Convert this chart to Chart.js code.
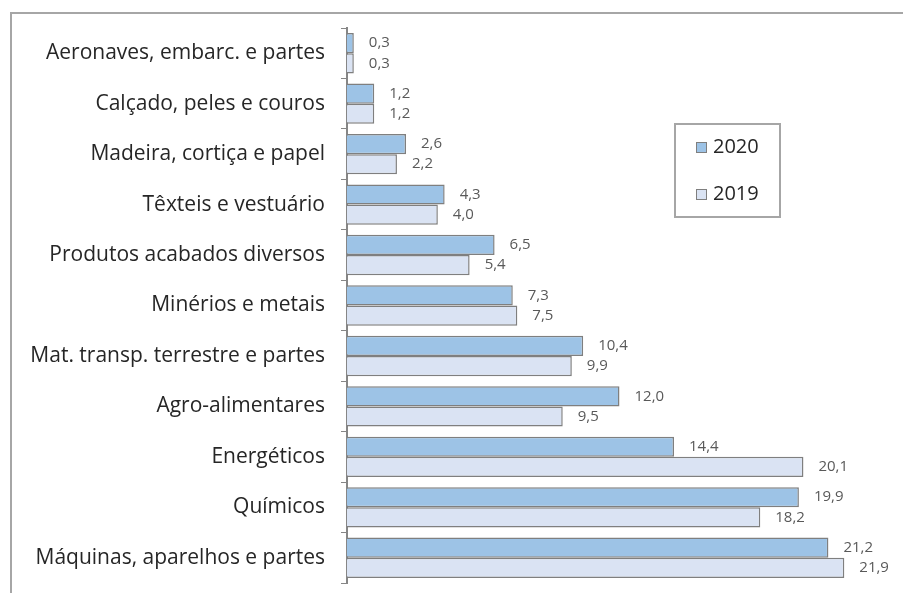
<!DOCTYPE html>
<html>
<head>
<meta charset="utf-8">
<script src="https://cdn.jsdelivr.net/npm/chart.js@4.4.0/dist/chart.umd.min.js"></script>
<style>
    html, body { margin: 0; padding: 0; background: #fff; }
    #wrap { width: 903px; height: 593px; position: relative; }
</style>
</head>
<body>
<div id="wrap"><canvas id="chart"></canvas></div>
<script>
// Data
const categories = [
    'Aeronaves, embarc. e partes',
    'Calçado, peles e couros',
    'Madeira, cortiça e papel',
    'Têxteis e vestuário',
    'Produtos acabados diversos',
    'Minérios e metais',
    'Mat. transp. terrestre e partes',
    'Agro-alimentares',
    'Energéticos',
    'Químicos',
    'Máquinas, aparelhos e partes'
];
const seriesNames = ['2020', '2019'];
const values2020 = [0.3, 1.2, 2.6, 4.3, 6.5, 7.3, 10.4, 12.0, 14.4, 19.9, 21.2];
const values2019 = [0.3, 1.2, 2.2, 4.0, 5.4, 7.5, 9.9, 9.5, 20.1, 18.2, 21.9];

const colors = {
    y2020: '#9dc3e6',
    y2019: '#dae3f3',
    border: '#7f7f7f',
    axis: '#868686',
    frame: '#a6a6a6',
    text: '#262626',
    value: '#595959'
};

// Outer frame, value labels and the floating legend
const extras = {
    id: 'extras',
    beforeDraw(chart) {
        const ctx = chart.ctx;
        ctx.save();
        ctx.strokeStyle = colors.frame;
        ctx.lineWidth = 2;
        ctx.beginPath();
        ctx.moveTo(11, chart.height);
        ctx.lineTo(11, 13);
        ctx.lineTo(chart.width, 13);
        ctx.stroke();
        ctx.restore();
    },
    afterDatasetsDraw(chart) {
        const ctx = chart.ctx;
        ctx.save();
        ctx.font = '15px "Open Sans"';
        ctx.fillStyle = colors.value;
        ctx.textAlign = 'left';
        ctx.textBaseline = 'middle';
        chart.data.datasets.forEach((ds, i) => {
            chart.getDatasetMeta(i).data.forEach((bar, j) => {
                const txt = ds.data[j].toFixed(1).replace('.', ',');
                ctx.fillText(txt, bar.x + 15, bar.y);
            });
        });

        // legend box
        ctx.strokeStyle = colors.frame;
        ctx.lineWidth = 2;
        ctx.strokeRect(675, 124, 105, 93);
        ctx.font = '20px "Open Sans"';
        chart.data.datasets.forEach((ds, i) => {
            const cy = 147 + i * 47;
            ctx.fillStyle = ds.backgroundColor;
            ctx.fillRect(696, cy - 5, 10, 10);
            ctx.strokeStyle = colors.border;
            ctx.lineWidth = 1;
            ctx.strokeRect(696.5, cy - 4.5, 10, 10);
            ctx.fillStyle = colors.text;
            ctx.fillText(ds.label, 713, cy);
        });
        ctx.restore();
    }
};

new Chart(document.getElementById('chart').getContext('2d'), {
    type: 'bar',
    data: {
        labels: categories,
        datasets: [{
            label: seriesNames[0],
            data: values2020,
            backgroundColor: colors.y2020,
            borderColor: colors.border,
            borderWidth: 1.5,
            categoryPercentage: 0.8,
            barPercentage: 1.0
        }, {
            label: seriesNames[1],
            data: values2019,
            backgroundColor: colors.y2019,
            borderColor: colors.border,
            borderWidth: 1.5,
            categoryPercentage: 0.8,
            barPercentage: 1.0
        }]
    },
    options: {
        indexAxis: 'y',
        responsive: true,
        maintainAspectRatio: false,
        animation: false,
        layout: { padding: { left: 0, right: 11, top: 28, bottom: 10 } },
        plugins: {
            legend: { display: false },
            tooltip: { enabled: false }
        },
        scales: {
            x: { display: false, min: 0, max: 24 },
            y: {
                offset: true,
                grid: {
                    offset: true,
                    drawOnChartArea: false,
                    drawTicks: true,
                    tickLength: 6,
                    color: colors.axis,
                    lineWidth: 1
                },
                border: { display: true, color: colors.axis, width: 2 },
                ticks: {
                    color: colors.text,
                    font: { family: 'Open Sans', size: 21 },
                    padding: 16
                },
                afterFit(scale) {
                    scale.width = 347;
                    scale.paddingTop = 0;
                    scale.paddingBottom = 0;
                }
            }
        }
    },
    plugins: [extras]
});
</script>
</body>
</html>
